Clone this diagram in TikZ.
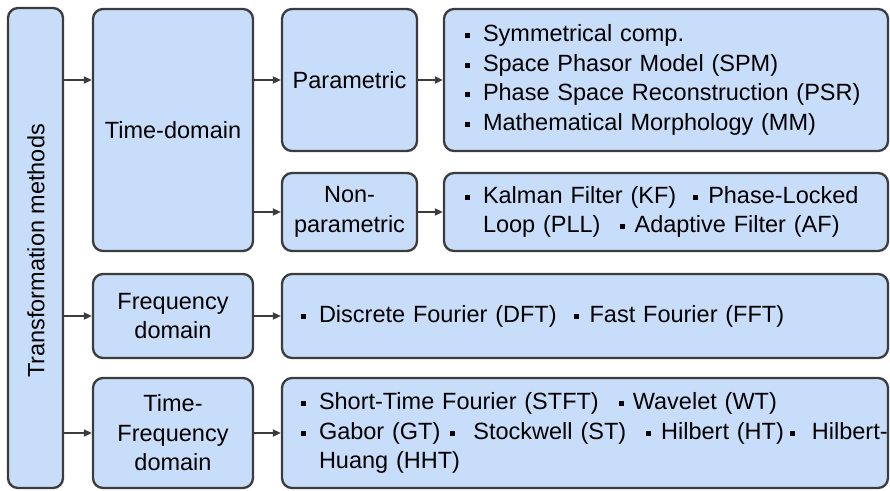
\documentclass[tikz,border=0pt]{standalone}
\usepackage{fontspec}
\setmainfont{Liberation Sans}
\usetikzlibrary{arrows.meta}
\definecolor{boxfill}{RGB}{200,221,250}
\definecolor{boxline}{RGB}{60,60,60}
\newcommand\bsq{\rule[3.5pt]{5pt}{5pt}}
\newcommand\fb{\makebox[18pt][l]{\bsq}}
\newcommand\ibb[2]{\hspace{#1}\bsq\hspace{#2}}
\hbadness=10000 \hfuzz=100pt
\begin{document}
\begin{tikzpicture}[x=1pt,y=-1pt,
  box/.style={draw=boxline,fill=boxfill,line width=2.3pt,rounded corners=10pt,
    inner sep=0pt,font=\fontsize{23.5}{29.5}\selectfont,align=center},
  listbox/.style={box,align=left,inner xsep=#1,inner ysep=0pt},
  arr/.style={draw=boxline,line width=1.8pt,-{Triangle[length=8pt,width=7pt]}}]
\useasboundingbox (0,0) rectangle (890,490);
% columns
\node[box,minimum width=55pt,minimum height=480pt] (tm) at (35.5,248) {};
\node[rotate=90,inner sep=0pt,font=\fontsize{23.5}{29.5}\selectfont] (tmt) at (36,251) {Transformation methods};
\node[box,minimum width=160pt,minimum height=242pt] (td) at (173,130) {Time-domain};
\node[box,minimum width=135pt,minimum height=142pt] (par) at (349.5,80) {Parametric};
\node[box,minimum width=135pt,minimum height=78pt] (np) at (349.5,212) {Non-\\parametric};
\node[listbox=21pt,text width=402pt,minimum height=142pt] (l1) at (666,80)
 {\fb Symmetrical comp.\\ \fb Space Phasor Model (SPM)\\ \fb Phase Space Reconstruction (PSR)\\ \fb Mathematical Morphology (MM)};
\node[listbox=21pt,text width=402pt,minimum height=78pt] (l2) at (666,212)
 {\mbox{\fb Kalman Filter (KF)\ibb{17pt}{10pt}Phase-Locked}\\ \mbox{\hspace*{18pt}Loop (PLL)\ibb{19pt}{10pt}Adaptive Filter (AF)}};
\node[box,minimum width=160pt,minimum height=84pt] (fd) at (173,316) {Frequency\\domain};
\node[listbox=19pt,text width=568pt,minimum height=84pt] (l3) at (585,316)
 {\mbox{\fb Discrete Fourier (DFT)\ibb{17pt}{11pt}Fast Fourier (FFT)}};
\node[box,minimum width=160pt,minimum height=110pt] (tf) at (173,433) {Time-\\Frequency\\domain};
\node[listbox=19pt,text width=568pt,minimum height=110pt] (l4) at (585,433)
 {\mbox{\fb Short-Time Fourier (STFT)\ibb{20pt}{9pt}Wavelet (WT)}\\ \mbox{\fb Gabor (GT)\ibb{10pt}{18pt}Stockwell (ST)\ibb{20pt}{10pt}Hilbert (HT)\ibb{6pt}{17pt}Hilbert-}\\ \mbox{\hspace*{18pt}Huang (HHT)}};
% connectors
\draw[arr] (tm.east |- par.west) -- (td.west |- par.west);
\draw[arr] (td.east |- par.west) -- (par.west);
\draw[arr] (td.east |- np.west) -- (np.west);
\draw[arr] (par.east) -- (l1.west);
\draw[arr] (np.east) -- (l2.west);
\draw[arr] (tm.east |- fd.west) -- (fd.west);
\draw[arr] (fd.east) -- (l3.west);
\draw[arr] (tm.east |- tf.west) -- (tf.west);
\draw[arr] (tf.east) -- (l4.west);
\end{tikzpicture}
\end{document}
